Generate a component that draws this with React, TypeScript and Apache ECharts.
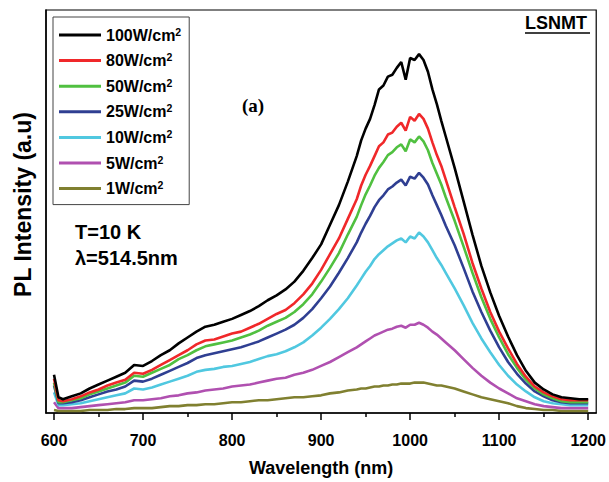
import React, { useEffect, useRef } from "react";
import * as echarts from "echarts";

const wavelength = [600,605,610,620,630,640,650,660,670,680,690,700,710,720,730,740,750,760,770,780,790,800,810,820,830,840,850,860,870,880,890,900,910,920,930,940,945,950,955,960,965,970,975,980,985,990,995,1000,1005,1010,1015,1020,1025,1030,1035,1040,1050,1060,1070,1080,1090,1100,1110,1120,1130,1140,1150,1160,1170,1180,1190,1200];

const p100 = [39,16,14,17,20,25,29,33,37,41, 49,48,53,59,64,71,77,83,88,90, 93,96,100,104,109,115,120,126,134,145, 158,172,192,212,236, 262,278,290,300,314,330,334,343,345,352,358,340,362,360,366,360,348,330,315,298,282, 250,216,182,150,123,99,78,59,43,31,24,19,16,15,14,14];
const p80 = [35,13,12,14,17,21,24,28,31,34, 41,40,44,49,54,59,64,70,74,75, 78,81,83,87,91,96,101,105,112,121, 132,146,162,178,198, 218,232,243,252,262,272,276,284,286,292,296,288,302,298,305,300,290,276,263,252,238, 210,183,153,127,103,83,66,50,37,27,21,17,14,13,13,13];
const p50 = [31,11,11,13,15,19,22,25,28,31, 38,37,41,45,49,55,59,64,68,70, 72,74,77,80,84,89,93,97,103,111, 121,134,148,163,182, 200,212,223,232,242,250,256,263,266,271,274,267,279,276,282,277,268,255,244,233,220, 196,170,143,118,96,77,60,46,34,25,19,15,12,11,11,11];
const p25 = [28,10,10,11,13,16,19,22,24,27, 33,32,35,39,43,47,51,56,59,61, 63,65,67,70,73,77,81,85,90,97, 106,117,129,143,158, 174,184,193,201,210,217,222,228,231,235,238,232,241,239,245,240,233,222,212,202,191, 171,148,124,103,84,67,52,40,30,22,17,13,11,10,10,10];
const p10 = [21,8,8,9,10,12,14,16,18,20, 25,24,26,29,32,35,38,42,44,45, 47,48,50,52,55,58,60,63,67,72, 79,87,96,106,117, 130,137,144,150,157,162,166,170,173,176,178,174,180,178,184,180,174,166,158,151,143, 127,110,92,76,62,49,38,29,22,16,12,10,9,8,8,8];
const p5 = [11,5,5,5,6,7,8,9,10,11, 13,13,14,15,17,18,20,21,23,24, 25,27,28,29,31,33,35,36,39,41, 44,48,52,57,62, 67,70,73,76,79,81,83,85,86,88,89,87,90,90,92,90,87,83,80,76,72, 64,55,46,38,31,25,20,15,12,9,7,6,5,5,5,5];
const p1 = [3,2,2,2,2,3,3,3,4,4, 5,5,5,6,7,7,8,8,9,9, 10,11,11,12,13,13,14,15,16,16, 17,18,20,21,23, 24,25,25,26,27,27,28,28,29,29,30,30,30,31,31,31,30,29,28,28,27, 25,22,19,16,14,12,10,7,5,4,3,3,2,2,2,2];

const seriesNames = ["100W/cm2", "80W/cm2", "50W/cm2", "25W/cm2", "10W/cm2", "5W/cm2", "1W/cm2"];
const seriesValues = [p100, p80, p50, p25, p10, p5, p1];
const seriesColors = ["#000000", "#f0282a", "#50c040", "#2f3f92", "#50c8e0", "#b050b0", "#808030"];

const majorTicks = [600, 700, 800, 900, 1000, 1100, 1200];
const minorTicks = [650, 750, 850, 950, 1050, 1150];

export default function App() {
  const ref = useRef<HTMLDivElement>(null);
  useEffect(() => {
    if (!ref.current) return;
    const chart = echarts.init(ref.current, undefined, { renderer: "svg" });
    const font = "'Liberation Sans', Arial, sans-serif";
    chart.setOption({
      animation: false,
      backgroundColor: "#ffffff",
      grid: {
        left: 46,
        right: 8,
        top: 10,
        bottom: 61,
        show: true,
        borderColor: "#000",
        borderWidth: 1.2,
      },
      legend: {
        orient: "vertical",
        left: 53,
        top: 17,
        padding: [9, 8, 8, 6],
        borderColor: "#444",
        borderWidth: 1,
        itemWidth: 42,
        itemHeight: 3,
        itemGap: 8.6,
        icon: "rect",
        data: seriesNames,
        formatter: (name: string) => `{a|${name.slice(0, -1)}}{s|2}`,
        textStyle: {
          rich: {
            a: { fontFamily: font, fontWeight: "bold", fontSize: 16, color: "#000", lineHeight: 18 },
            s: { fontFamily: font, fontWeight: "bold", fontSize: 10.5, color: "#000", verticalAlign: "top", lineHeight: 10 },
          },
        },
      },
      xAxis: [
        {
          type: "value",
          min: 591,
          max: 1209,
          name: "Wavelength (nm)",
          nameLocation: "middle",
          nameGap: 46,
          nameTextStyle: { fontFamily: font, fontWeight: "bold", fontSize: 18, color: "#000" },
          axisLine: { lineStyle: { color: "#000", width: 1.5 } },
          axisTick: { customValues: majorTicks, length: 7, lineStyle: { color: "#000", width: 1.5 } },
          axisLabel: {
            customValues: majorTicks,
            formatter: (v: number) => String(v),
            margin: 19,
            fontFamily: font,
            fontWeight: "bold",
            fontSize: 16,
            color: "#000",
          },
          splitLine: { show: false },
        },
        {
          type: "value",
          min: 591,
          max: 1209,
          position: "bottom",
          axisLine: { show: false },
          axisTick: { customValues: minorTicks, length: 4, lineStyle: { color: "#000", width: 1.5 } },
          axisLabel: { show: false },
          splitLine: { show: false },
        },
      ],
      yAxis: {
        type: "value",
        min: 0,
        max: 411,
        name: "PL Intensity (a.u)",
        nameLocation: "middle",
        nameGap: 12,
        nameTextStyle: { fontFamily: font, fontWeight: "bold", fontSize: 23, color: "#000", padding: [0, 0, 0, 14] },
        axisLine: { show: true, lineStyle: { color: "#000", width: 1.5 } },
        axisTick: { show: false },
        axisLabel: { show: false },
        splitLine: { show: false },
      },
      graphic: [
        { type: "text", left: 525, top: 14, style: { text: "LSNMT", fontFamily: font, fontWeight: "bold", fontSize: 18, fill: "#000" } },
        { type: "line", shape: { x1: 525, y1: 33, x2: 590, y2: 33 }, style: { stroke: "#000", lineWidth: 1.5 } },
        { type: "text", left: 242, top: 96, style: { text: "(a)", fontFamily: "'Liberation Serif', 'Times New Roman', serif", fontWeight: "bold", fontSize: 19, fill: "#000" } },
        { type: "text", left: 75, top: 222, style: { text: "T=10 K", fontFamily: font, fontWeight: "bold", fontSize: 20, fill: "#000" } },
        { type: "text", left: 75, top: 248, style: { text: "λ=514.5nm", fontFamily: font, fontWeight: "bold", fontSize: 20, fill: "#000" } },
      ],
      series: seriesNames.map((name, k) => ({
        name,
        type: "line",
        xAxisIndex: 0,
        symbol: "none",
        smooth: false,
        color: seriesColors[k],
        lineStyle: { color: seriesColors[k], width: 2.6 },
        data: wavelength.map((w, i) => [w, seriesValues[k][i]]),
        z: 10 - k,
      })),
    });
    return () => chart.dispose();
  }, []);
  return <div ref={ref} style={{ position: "absolute", left: 0, top: 0, width: 609, height: 482 }} />;
}
